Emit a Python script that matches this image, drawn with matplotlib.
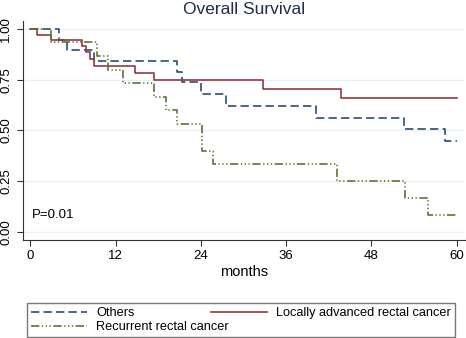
import matplotlib
matplotlib.use('Agg')
import matplotlib.pyplot as plt

plt.rcParams['font.family'] = ['Liberation Sans', 'DejaVu Sans']

# Kaplan-Meier step data (months, survival)
others_t = [0, 4.0, 5.1, 8.9, 20.6, 21.4, 24.0, 27.6, 40.2, 52.6, 58.4, 60]
others_s = [1.0, 0.947, 0.895, 0.842, 0.789, 0.737, 0.68, 0.62, 0.563, 0.507, 0.448, 0.448]

lar_t = [0, 1.0, 2.9, 7.3, 7.8, 8.4, 8.9, 14.8, 17.4, 32.7, 43.7, 60]
lar_s = [1.0, 0.972, 0.944, 0.917, 0.885, 0.85, 0.815, 0.785, 0.75, 0.705, 0.66, 0.66]

rec_t = [0, 2.9, 9.4, 11.0, 13.0, 17.4, 19.1, 20.7, 24.1, 25.7, 43.1, 52.8, 56.0, 60]
rec_s = [1.0, 0.933, 0.867, 0.8, 0.733, 0.667, 0.6, 0.533, 0.4, 0.333, 0.25, 0.167, 0.083, 0.083]

xticks = [0, 12, 24, 36, 48, 60]
yticks = [0.0, 0.25, 0.5, 0.75, 1.0]

navy = '#2b4d73'
maroon = '#93393f'
green = '#5a7536'

fig = plt.figure(figsize=(4.66, 3.38), dpi=100)
ax = fig.add_axes([0.049, 0.29, 0.949, 0.648])

for y in yticks:
    ax.axhline(y, color='#eaf2f3', lw=1.0, zorder=0)

l1, = ax.step(others_t, others_s, where='post', color=navy, lw=1.2,
              dashes=(5, 2.5), label='Others')
l2, = ax.step(lar_t, lar_s, where='post', color=maroon, lw=1.2,
              label='Locally advanced rectal cancer')
l3, = ax.step(rec_t, rec_s, where='post', color=green, lw=1.2,
              dashes=(5, 1.5, 0.8, 1.5, 0.8, 1.5, 0.8, 1.5),
              label='Recurrent rectal cancer')

ax.set_xlim(-1.06, 61.2)
ax.set_ylim(-0.039, 1.039)
ax.set_xticks(xticks)
ax.set_xticklabels([str(t) for t in xticks], fontsize=9.5)
ax.set_yticks(yticks)
ax.set_yticklabels(['%.2f' % v for v in yticks], fontsize=9.5, rotation=90, va='center')
ax.tick_params(direction='out', length=4, color='#333333', width=0.8)
for s in ['top', 'right']:
    ax.spines[s].set_visible(False)
for s in ['left', 'bottom']:
    ax.spines[s].set_color('#333333')
    ax.spines[s].set_linewidth(0.8)

ax.set_xlabel('months', fontsize=10.5, labelpad=2)
ax.set_title('Overall Survival', fontsize=12.5, color='#1e2d4f', pad=5)
ax.text(0.2, 0.084, 'P=0.01', fontsize=9.5, va='center', ha='left')

fig.legend([l1, l3, l2], ['Others', 'Recurrent rectal cancer', 'Locally advanced rectal cancer'],
           loc='lower left', bbox_to_anchor=(0.058, 0.003, 0.918, 0.124), mode='expand',
           ncol=2, fontsize=9.2, handlelength=4.4, fancybox=False, edgecolor='#555555',
           borderaxespad=0, labelspacing=0.15, borderpad=0.3, handletextpad=0.7)

fig.savefig('out.png', dpi=100)
